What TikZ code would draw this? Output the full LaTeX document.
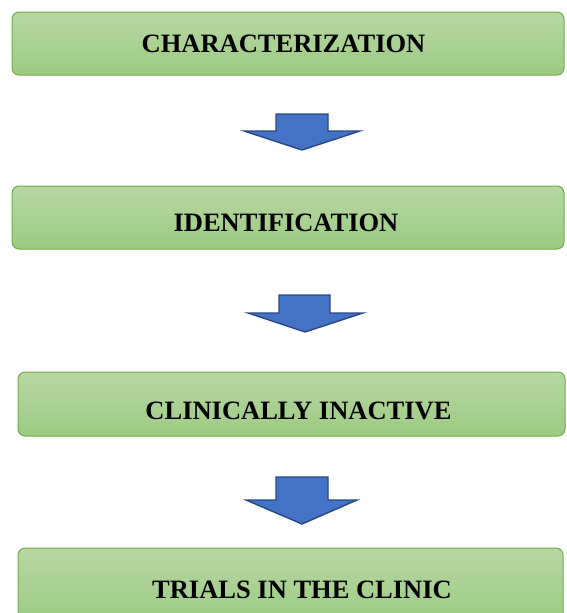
\documentclass[tikz,border=0pt]{standalone}
\usepackage{fontspec}
\setmainfont{Liberation Serif}
\usetikzlibrary{calc}
\definecolor{boxtop}{RGB}{183,215,165}
\definecolor{boxbot}{RGB}{157,203,130}
\definecolor{boxline}{RGB}{112,173,71}
\definecolor{arrowfill}{RGB}{68,114,196}
\definecolor{arrowline}{RGB}{40,72,130}
\begin{document}
\begin{tikzpicture}[x=1pt,y=-1pt,
  stage/.style={draw=boxline, line width=1pt, rounded corners=7pt,
    top color=boxtop, bottom color=boxbot, inner sep=0pt},
  label/.style={anchor=base, inner sep=0pt, font=\fontsize{26.5}{30}\selectfont\bfseries},
  blockarrow/.style={fill=arrowfill, draw=arrowline, line width=1.4pt, line join=miter}]
\useasboundingbox (0,0) rectangle (566,613);
\clip (0,0) rectangle (566,613);
% boxes
\node[stage, minimum width=552pt, minimum height=63pt] (b1) at (288,43.5) {};
\node[stage, minimum width=552pt, minimum height=63pt] (b2) at (288,217.5) {};
\node[stage, minimum width=547pt, minimum height=64pt] (b3) at (291.5,404) {};
\node[stage, minimum width=545pt, minimum height=74pt] (b4) at (290.5,585) {};
% texts
\node[label] (t1) at (283.5,52) {CHARACTERIZATION};
\node[label] (t2) at (286,231) {IDENTIFICATION};
\node[label] (t3) at (298.5,419) {CLINICALLY INACTIVE};
\node[label] (t4) at (302,598) {TRIALS IN THE CLINIC};
% block arrows (top-centre coordinates)
\coordinate (a1) at (302,114);
\coordinate (a2) at (305,295);
\coordinate (a3) at (302,477);
\draw[blockarrow] ($(a1)+(-26,0)$) -- ($(a1)+(26,0)$) -- ($(a1)+(26,17)$) -- ($(a1)+(58,17)$)
  -- ($(a1)+(0,36)$) -- ($(a1)+(-58,17)$) -- ($(a1)+(-26,17)$) -- cycle;
\draw[blockarrow] ($(a2)+(-26,0)$) -- ($(a2)+(25,0)$) -- ($(a2)+(25,18)$) -- ($(a2)+(58,18)$)
  -- ($(a2)+(0,37)$) -- ($(a2)+(-57,18)$) -- ($(a2)+(-26,18)$) -- cycle;
\draw[blockarrow] ($(a3)+(-26,0)$) -- ($(a3)+(26,0)$) -- ($(a3)+(26,23)$) -- ($(a3)+(55,23)$)
  -- ($(a3)+(0,47)$) -- ($(a3)+(-56,23)$) -- ($(a3)+(-26,23)$) -- cycle;
\end{tikzpicture}
\end{document}
